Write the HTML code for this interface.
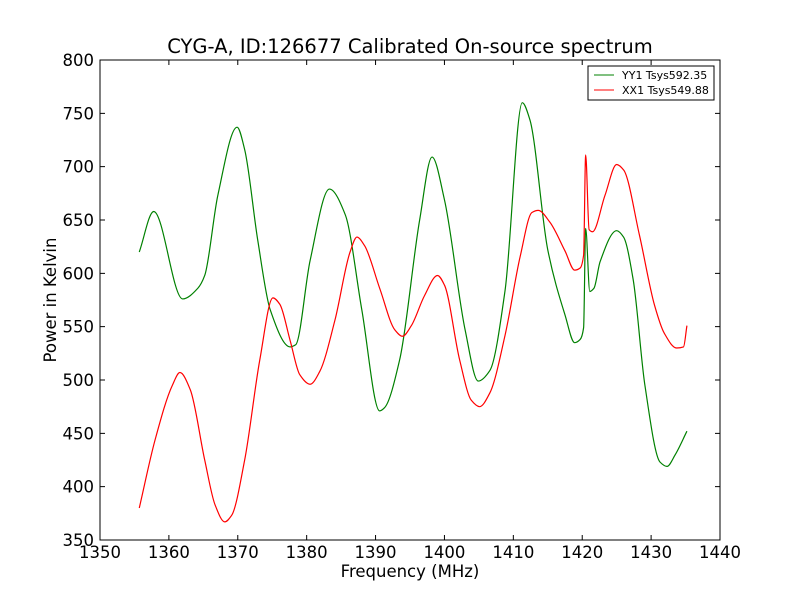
<!DOCTYPE html>
<html><head><meta charset="utf-8"><style>
body{margin:0;background:#fff;}
text{font-family:"DejaVu Sans","Liberation Sans",sans-serif;}
</style></head><body>
<svg id="chart" width="800" height="600" xmlns="http://www.w3.org/2000/svg">
<rect width="800" height="600" fill="#fff"/>
<text x="410" y="53" font-size="19.5" text-anchor="middle">CYG-A, ID:126677 Calibrated On-source spectrum</text>
<text x="410" y="577" font-size="16.5" text-anchor="middle">Frequency (MHz)</text>
<text x="56" y="300" font-size="16.5" text-anchor="middle" transform="rotate(-90 56 300)">Power in Kelvin</text>
<g id="ticks"></g>
<g id="series"></g>
<rect x="100" y="60" width="620" height="480" fill="none" stroke="#000" stroke-width="1"/>
<g>
<rect x="588" y="66" width="126" height="34" fill="#fff" stroke="#000" stroke-width="1"/>
<line x1="594" y1="75" x2="614" y2="75" stroke="green"/>
<text x="622" y="79" font-size="11">YY1 Tsys592.35</text>
<line x1="594" y1="90" x2="614" y2="90" stroke="red"/>
<text x="622" y="94" font-size="11">XX1 Tsys549.88</text>
</g>
</svg>
<script>
const xTicks=[1350,1360,1370,1380,1390,1400,1410,1420,1430,1440];
const yTicks=[350,400,450,500,550,600,650,700,750,800];
const yyFreq=[1355.7,1357.8,1362,1364.2,1365.2,1367.1,1369.9,1371,1372.9,1374.7,1377.6,1378.4,1380.5,1383.3,1385.6,1388,1390.6,1391.3,1393.5,1396.4,1398.2,1400,1403,1404.9,1406.6,1408.8,1411.3,1412.4,1415,1417.5,1418.9,1419.7,1420.2,1420.5,1421.1,1421.7,1422.6,1425,1426,1427.4,1429.1,1431.3,1432.3,1433.5,1435.2];
const yyPower=[620,658,576,586,598,673,737,716,631,566,531,533,612,679,655,566,471,474,519,650,709,669,547,499,509,584,760,744,622,561,535,538,549,642,583,586,611,640,634,594,495,423,419,430,452];
const xxFreq=[1355.7,1358,1360.5,1361.6,1363.1,1365.2,1366.7,1368.1,1369.1,1371,1373.2,1375.1,1376.1,1377.6,1379,1380.5,1381.9,1384.1,1386.3,1387.3,1388.4,1390.6,1392.8,1393.9,1395.2,1397.1,1399,1400,1402.2,1403.9,1405.1,1406.6,1408.8,1411,1412.7,1413.6,1415.3,1417.5,1418.9,1419.7,1420.2,1420.5,1421,1421.5,1423.3,1425,1426,1428.3,1430.5,1431.9,1433.7,1434.7,1435.2];
const xxPower=[380,444,495,507,491,425,383,367,373,425,519,577,571,537,505,496,508,556,620,634,626,586,547,541,551,579,598,589,519,481,475,488,542,616,657,659,648,621,603,605,617,711,641,639,673,702,697,636,570,544,530,531,551];
const NS='http://www.w3.org/2000/svg';
const X=v=>100+(v-1350)/90*620;
const Y=v=>540-(v-350)/450*480;
const tg=document.getElementById('ticks');
xTicks.forEach(t=>{
  const x=X(t);
  const l1=document.createElementNS(NS,'path');
  l1.setAttribute('d',`M${x},540v-5M${x},60v5`);l1.setAttribute('stroke','#000');
  
  
  tg.appendChild(l1);
  const tx=document.createElementNS(NS,'text');
  tx.setAttribute('x',x);tx.setAttribute('y',558);tx.setAttribute('font-size','16.5');tx.setAttribute('text-anchor','middle');
  tx.textContent=t;
  
  
  tg.appendChild(tx);
});
yTicks.forEach(t=>{
  const y=Y(t);
  const l1=document.createElementNS(NS,'path');
  l1.setAttribute('d',`M100,${y}h5M720,${y}h-5`);l1.setAttribute('stroke','#000');
  
  
  tg.appendChild(l1);
  const tx=document.createElementNS(NS,'text');
  tx.setAttribute('x',94);tx.setAttribute('y',y+6);tx.setAttribute('font-size','16.5');tx.setAttribute('text-anchor','end');
  tx.textContent=t;
  
  
  tg.appendChild(tx);
});
function monotonePath(xs,ys){
  const n=xs.length,d=[],m=new Array(n);
  for(let i=0;i<n-1;i++)d.push((ys[i+1]-ys[i])/(xs[i+1]-xs[i]));
  m[0]=d[0];m[n-1]=d[n-2];
  for(let i=1;i<n-1;i++){
    if(d[i-1]*d[i]<=0)m[i]=0;
    else{const h0=xs[i]-xs[i-1],h1=xs[i+1]-xs[i];const w1=2*h1+h0,w2=h1+2*h0;m[i]=(w1+w2)/(w1/d[i-1]+w2/d[i]);}
  }
  let s=`M${xs[0]},${ys[0]}`;
  for(let i=0;i<n-1;i++){
    const h=(xs[i+1]-xs[i])/3;
    s+=`C${xs[i]+h},${ys[i]+m[i]*h} ${xs[i+1]-h},${ys[i+1]-m[i+1]*h} ${xs[i+1]},${ys[i+1]}`;
  }
  return s;
}
const sg=document.getElementById('series');
function line(fs,ps,color,name){
  const p=document.createElementNS(NS,'path');
  p.setAttribute('d',monotonePath(fs.map(X),ps.map(Y)));
  p.setAttribute('fill','none');p.setAttribute('stroke',color);p.setAttribute('stroke-width','1.2');p.setAttribute('stroke-linejoin','round');
  
  
  sg.appendChild(p);
}
line(yyFreq,yyPower,'green','yy1-line');
line(xxFreq,xxPower,'red','xx1-line');
</script>
</body></html>
